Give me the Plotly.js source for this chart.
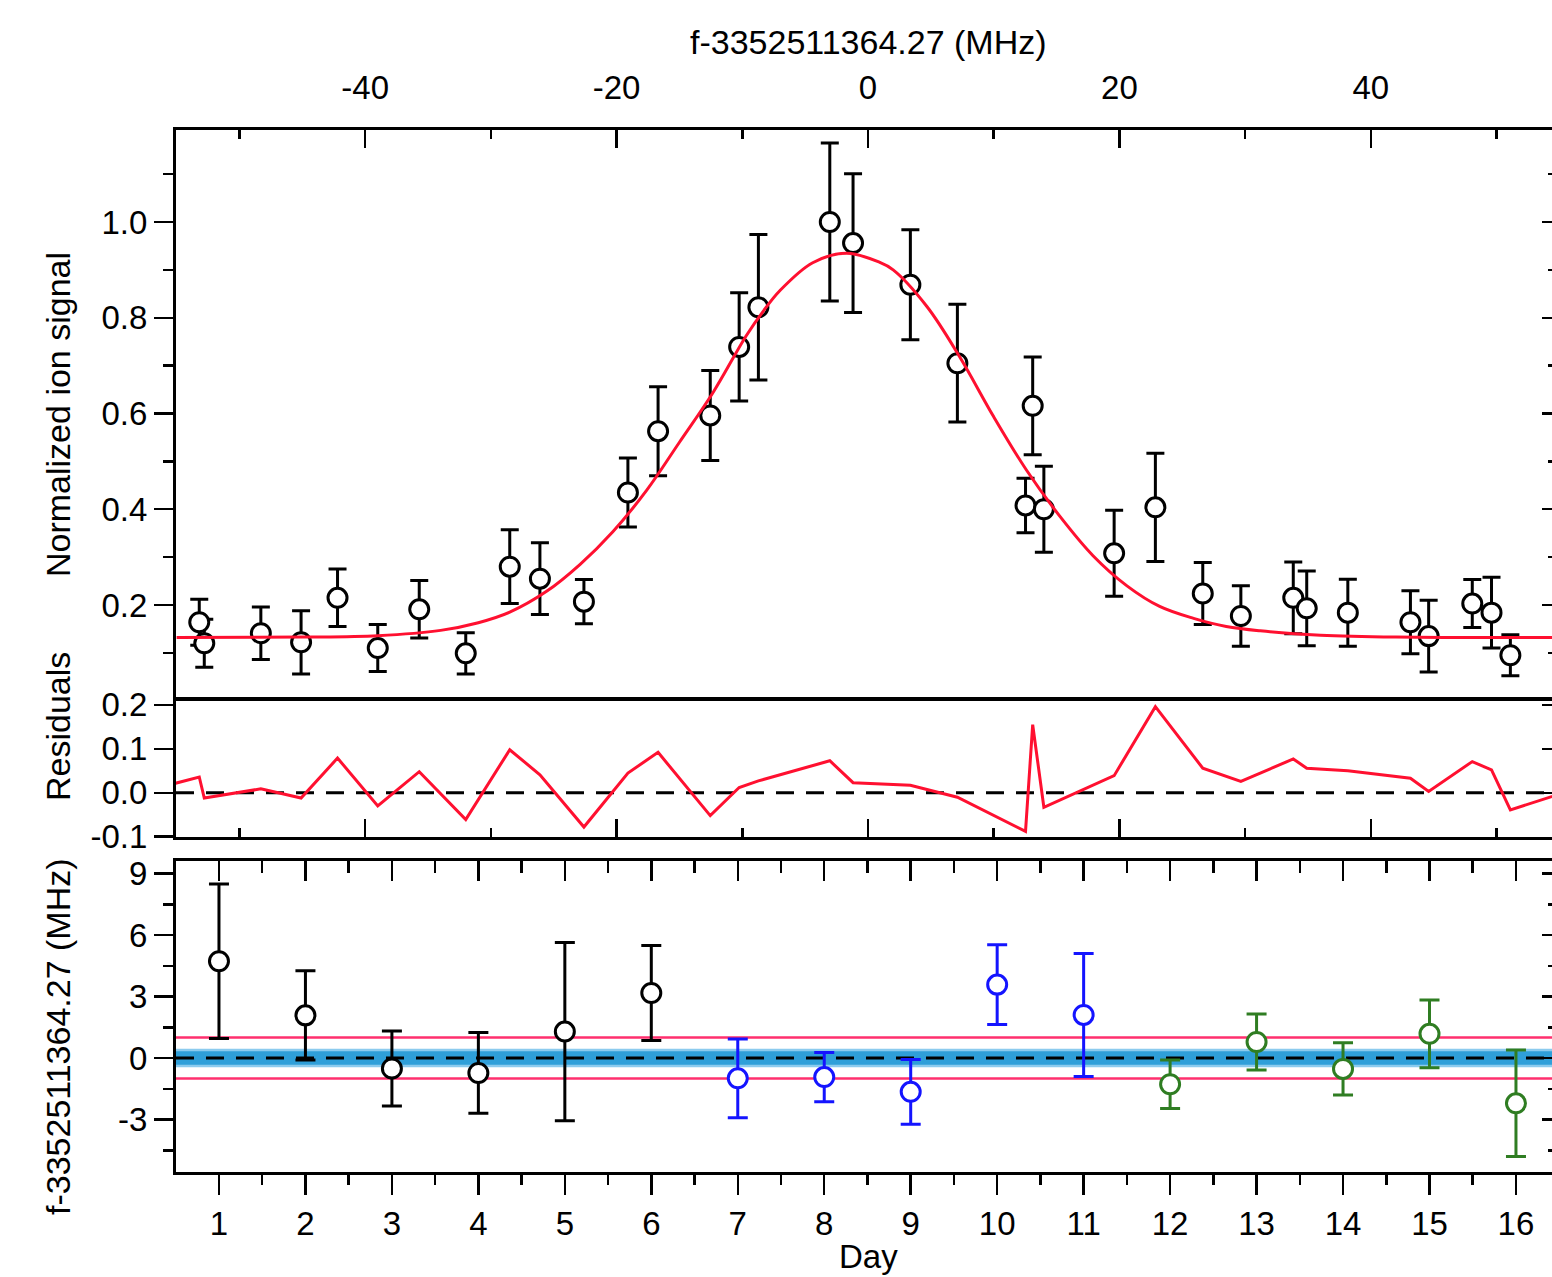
<!DOCTYPE html>
<html>
<head>
<meta charset="utf-8">
<script src="https://cdn.plot.ly/plotly-3.0.1.min.js"></script>
<style>
  html, body { margin: 0; padding: 0; background: #ffffff; overflow: hidden; }
  #chart { width: 1560px; height: 1277px; }
</style>
</head>
<body>
<div id="chart"></div>
<script>
// ---------- Top panel: normalized ion signal vs frequency offset (MHz) ----------
const scanMHz = [-53.2, -52.8, -48.3, -45.1, -42.2, -39.0, -35.7, -32.0, -28.5, -26.1,
                 -22.6, -19.1, -16.7, -12.55, -10.25, -8.72, -3.04, -1.19, 3.37, 7.11,
                 12.53, 13.1, 13.99, 19.58, 22.86, 26.63, 29.66, 33.83, 34.9, 38.17,
                 43.15, 44.6, 48.07, 49.6, 51.1];
const ionSignal = [0.164, 0.120, 0.141, 0.122, 0.215, 0.110, 0.191, 0.099, 0.280, 0.255,
                   0.207, 0.435, 0.563, 0.596, 0.739, 0.822, 1.000, 0.956, 0.869, 0.705,
                   0.408, 0.616, 0.400, 0.308, 0.404, 0.224, 0.177, 0.215, 0.193, 0.184,
                   0.164, 0.135, 0.203, 0.184, 0.095];
const ionSignalErr = [0.048, 0.050, 0.055, 0.066, 0.060, 0.049, 0.060, 0.043, 0.077, 0.075,
                      0.046, 0.072, 0.093, 0.094, 0.113, 0.152, 0.165, 0.145, 0.115, 0.123,
                      0.057, 0.102, 0.090, 0.090, 0.113, 0.065, 0.063, 0.075, 0.078, 0.070,
                      0.066, 0.075, 0.050, 0.074, 0.043];

// Fitted line
const fitMHz = [-55, -45, -39, -34, -31, -28.5, -25.6, -22.9, -20.3, -17.6, -15, -12.3, -9.7,
                -8.3, -7, -4.4, -1.7, 0.9, 2, 4.7, 7.3, 10, 12.6, 15.3, 17.9, 20.6, 23.2,
                25.9, 28.5, 31.2, 36, 42, 55];
const fitSignal = [0.132, 0.133, 0.136, 0.147, 0.163, 0.185, 0.228, 0.285, 0.353, 0.440,
                   0.540, 0.645, 0.762, 0.815, 0.857, 0.915, 0.935, 0.916, 0.900, 0.823,
                   0.718, 0.593, 0.482, 0.384, 0.303, 0.240, 0.197, 0.172, 0.155, 0.146,
                   0.137, 0.133, 0.132];

// ---------- Middle panel: residuals ----------
const residMHz = [-56.5, -53.2, -52.8, -48.3, -45.1, -42.2, -39.0, -35.7, -32.0, -28.5, -26.1,
                  -22.6, -19.1, -16.7, -12.55, -10.25, -8.72, -3.04, -1.19, 3.37, 7.11,
                  12.53, 13.1, 13.99, 19.58, 22.86, 26.63, 29.66, 33.83, 34.9, 38.17,
                  43.15, 44.6, 48.07, 49.6, 51.1, 56.5];
const residuals = [0.011, 0.036, -0.012, 0.009, -0.012, 0.079, -0.030, 0.048, -0.061, 0.098, 0.041,
                   -0.078, 0.045, 0.092, -0.052, 0.012, 0.027, 0.073, 0.023, 0.017, -0.010,
                   -0.088, 0.155, -0.033, 0.039, 0.196, 0.056, 0.026, 0.077, 0.056, 0.050,
                   0.033, 0.003, 0.071, 0.052, -0.039, 0.011];

// ---------- Bottom panel: daily frequency offsets ----------
const daysA = [1, 2, 3, 4, 5, 6];
const shiftA = [4.72, 2.08, -0.51, -0.73, 1.29, 3.17];
const shiftErrA = [3.77, 2.18, 1.83, 1.97, 4.35, 2.32];
const daysB = [7, 8, 9, 10, 11];
const shiftB = [-0.99, -0.93, -1.65, 3.58, 2.10];
const shiftErrB = [1.92, 1.20, 1.58, 1.94, 3.00];
const daysC = [12, 13, 14, 15, 16];
const shiftC = [-1.28, 0.78, -0.53, 1.18, -2.21];
const shiftErrC = [1.18, 1.37, 1.27, 1.65, 2.60];
const meanShift = 0.0;
const meanShiftBand = 0.33;      // blue uncertainty band half-width
const meanShiftBandOuter = 0.45;
const scatterBand = 1.0;         // pink lines

// ---------- Tick labels ----------
const mhzTicks = [-40, -20, 0, 20, 40];
const mhzTickText = ['-40', '-20', '0', '20', '40'];
const mhzMinor = [-50, -30, -10, 10, 30, 50];
const sigTicks = [0.2, 0.4, 0.6, 0.8, 1.0];
const sigTickText = ['0.2', '0.4', '0.6', '0.8', '1.0'];
const sigMinor = [0.1, 0.3, 0.5, 0.7, 0.9, 1.1];
const resTicks = [-0.1, 0.0, 0.1, 0.2];
const resTickText = ['-0.1', '0.0', '0.1', '0.2'];
const dayTicks = [1, 2, 3, 4, 5, 6, 7, 8, 9, 10, 11, 12, 13, 14, 15, 16];
const dayTickText = ['1', '2', '3', '4', '5', '6', '7', '8', '9', '10', '11', '12', '13', '14', '15', '16'];
const dayMinor = [0.5, 1.5, 2.5, 3.5, 4.5, 5.5, 6.5, 7.5, 8.5, 9.5, 10.5, 11.5, 12.5, 13.5, 14.5, 15.5, 16.5];
const shiftTicks = [-3, 0, 3, 6, 9];
const shiftTickText = ['-3', '0', '3', '6', '9'];
const shiftMinor = [-4.5, -1.5, 1.5, 4.5, 7.5];

// ---------- Styling ----------
const RED = '#ff1030';
const PINK = '#ff2f6e';
const BLUE = '#1414ff';
const GREEN = '#2f7d22';
const BAND = '#2f9fd9';
const BAND_OUT = '#8ccbee';
const FONT = 'Liberation Sans, Arial, Helvetica, sans-serif';

function pts(x, y, err, color, xa, ya, half) {
  return {
    type: 'scatter', mode: 'markers', x: x, y: y, xaxis: xa, yaxis: ya,
    error_y: { type: 'data', array: err, visible: true, color: color, thickness: 3, width: half },
    marker: { symbol: 'circle', size: 19, color: '#ffffff', line: { color: color, width: 3 } },
    hoverinfo: 'x+y'
  };
}

const traces = [
  { type: 'scatter', mode: 'lines', x: fitMHz, y: fitSignal, xaxis: 'x', yaxis: 'y4',
    line: { color: RED, width: 3, shape: 'spline', smoothing: 1.0 } },
  pts(scanMHz, ionSignal, ionSignalErr, '#000000', 'x', 'y', 9),
  { type: 'scatter', mode: 'lines', x: residMHz, y: residuals, xaxis: 'x2', yaxis: 'y5',
    line: { color: RED, width: 3 } },
  pts(daysA, shiftA, shiftErrA, '#000000', 'x4', 'y3', 10),
  pts(daysB, shiftB, shiftErrB, BLUE, 'x3', 'y6', 10),
  pts(daysC, shiftC, shiftErrC, GREEN, 'x3', 'y3', 10)
];

const H = 1042; // plotting height
const topDom = [(1172 - 697) / H, 1];
const resDom = [(1172 - 837) / H, (1172 - 697) / H];
const botDom = [0, (1172 - 861) / H];

const mhzRange = [-55.05, 54.73];
const sigRange = [0.0078, 1.1922];
const resRange = [-0.1006, 0.218];
const dayRange = [0.503, 16.463];
const shiftRange = [-5.56, 9.61];

const baseAx = {
  showgrid: false, zeroline: false, showline: true, linecolor: '#000000', linewidth: 3,
  tickcolor: '#000000', tickwidth: 2.5, tickfont: { family: FONT, size: 33, color: '#000000' },
  fixedrange: true
};

const layout = {
  width: 1560, height: 1277,
  margin: { l: 176, r: 4, t: 130, b: 105 },
  paper_bgcolor: '#ffffff', plot_bgcolor: '#ffffff',
  showlegend: false,
  font: { family: FONT, size: 33, color: '#000000' },
  xaxis: Object.assign({}, baseAx, {
    domain: [0, 1], anchor: 'y', side: 'top', range: mhzRange, mirror: true, linewidth: 3.5,
    tickmode: 'array', tickvals: mhzTicks, ticktext: mhzTickText,
    ticks: 'inside', ticklen: 18, ticklabelstandoff: 14,
    minor: { tickmode: 'array', tickvals: mhzMinor, ticks: 'inside', ticklen: 9, tickwidth: 2.5, tickcolor: '#000000' }
  }),
  yaxis: Object.assign({}, baseAx, {
    domain: topDom, anchor: 'x', range: sigRange, mirror: true,
    tickmode: 'array', tickvals: sigTicks, ticktext: sigTickText,
    ticks: 'outside', ticklen: 19,
    minor: { tickmode: 'array', tickvals: sigMinor, ticks: 'outside', ticklen: 10, tickwidth: 2.5, tickcolor: '#000000' }
  }),
  yaxis4: Object.assign({}, baseAx, {
    overlaying: 'y', side: 'right', anchor: 'x', range: sigRange, showline: false,
    tickmode: 'array', tickvals: sigTicks, showticklabels: false,
    ticks: 'inside', ticklen: 14,
    minor: { tickmode: 'array', tickvals: sigMinor, ticks: 'inside', ticklen: 8, tickwidth: 2.5, tickcolor: '#000000' }
  }),
  xaxis2: Object.assign({}, baseAx, {
    domain: [0, 1], anchor: 'y2', side: 'bottom', range: mhzRange, mirror: false,
    tickmode: 'array', tickvals: mhzTicks, showticklabels: false,
    ticks: 'inside', ticklen: 18,
    minor: { tickmode: 'array', tickvals: mhzMinor, ticks: 'inside', ticklen: 9, tickwidth: 2.5, tickcolor: '#000000' }
  }),
  yaxis2: Object.assign({}, baseAx, {
    domain: resDom, anchor: 'x2', range: resRange, mirror: true,
    tickmode: 'array', tickvals: resTicks, ticktext: resTickText,
    ticks: 'outside', ticklen: 19
  }),
  yaxis5: Object.assign({}, baseAx, {
    overlaying: 'y2', side: 'right', anchor: 'x2', range: resRange, showline: false,
    tickmode: 'array', tickvals: resTicks, showticklabels: false,
    ticks: 'inside', ticklen: 14
  }),
  xaxis3: Object.assign({}, baseAx, {
    domain: [0, 1], anchor: 'y3', side: 'bottom', range: dayRange, mirror: true,
    tickmode: 'array', tickvals: dayTicks, ticktext: dayTickText,
    ticks: 'outside', ticklen: 20, ticklabelstandoff: 0,
    minor: { tickmode: 'array', tickvals: dayMinor, ticks: 'outside', ticklen: 10, tickwidth: 2.5, tickcolor: '#000000' }
  }),
  xaxis4: Object.assign({}, baseAx, {
    overlaying: 'x3', side: 'top', anchor: 'y3', range: dayRange, showline: false,
    tickmode: 'array', tickvals: dayTicks, showticklabels: false,
    ticks: 'inside', ticklen: 20,
    minor: { tickmode: 'array', tickvals: dayMinor, ticks: 'inside', ticklen: 12, tickwidth: 2.5, tickcolor: '#000000' }
  }),
  yaxis3: Object.assign({}, baseAx, {
    domain: botDom, anchor: 'x3', range: shiftRange, mirror: true,
    tickmode: 'array', tickvals: shiftTicks, ticktext: shiftTickText,
    ticks: 'outside', ticklen: 19,
    minor: { tickmode: 'array', tickvals: shiftMinor, ticks: 'outside', ticklen: 10, tickwidth: 2.5, tickcolor: '#000000' }
  }),
  yaxis6: Object.assign({}, baseAx, {
    overlaying: 'y3', side: 'right', anchor: 'x3', range: shiftRange, showline: false,
    tickmode: 'array', tickvals: shiftTicks, showticklabels: false,
    ticks: 'inside', ticklen: 14,
    minor: { tickmode: 'array', tickvals: shiftMinor, ticks: 'inside', ticklen: 8, tickwidth: 2.5, tickcolor: '#000000' }
  }),
  shapes: [
    { type: 'line', xref: 'x2 domain', yref: 'y2', x0: 0, x1: 1, y0: 0, y1: 0,
      line: { color: '#000000', width: 3, dash: '18px,12px' }, layer: 'below' },
    { type: 'rect', xref: 'x3 domain', yref: 'y3', x0: 0, x1: 1,
      y0: meanShift - meanShiftBandOuter, y1: meanShift + meanShiftBandOuter,
      fillcolor: BAND_OUT, line: { width: 0 }, layer: 'below' },
    { type: 'rect', xref: 'x3 domain', yref: 'y3', x0: 0, x1: 1,
      y0: meanShift - meanShiftBand, y1: meanShift + meanShiftBand,
      fillcolor: BAND, line: { width: 0 }, layer: 'below' },
    { type: 'line', xref: 'x3 domain', yref: 'y3', x0: 0, x1: 1,
      y0: meanShift + scatterBand, y1: meanShift + scatterBand,
      line: { color: PINK, width: 2.5 }, layer: 'below' },
    { type: 'line', xref: 'x3 domain', yref: 'y3', x0: 0, x1: 1,
      y0: meanShift - scatterBand, y1: meanShift - scatterBand,
      line: { color: PINK, width: 2.5 }, layer: 'below' },
    { type: 'line', xref: 'x3 domain', yref: 'y3', x0: 0, x1: 1, y0: meanShift, y1: meanShift,
      line: { color: '#000000', width: 3, dash: '18px,12px' }, layer: 'below' }
  ],
  annotations: [
    { text: 'f-3352511364.27 (MHz)', xref: 'paper', yref: 'paper',
      x: (868 - 176) / 1380, y: (1172 - 42) / H, xanchor: 'center', yanchor: 'middle',
      showarrow: false, font: { family: FONT, size: 34, color: '#000000' } },
    { text: 'Day', xref: 'paper', yref: 'paper',
      x: (868 - 176) / 1380, y: (1172 - 1256) / H, xanchor: 'center', yanchor: 'middle',
      showarrow: false, font: { family: FONT, size: 33, color: '#000000' } },
    { text: 'Normalized ion signal', xref: 'paper', yref: 'paper', textangle: -90,
      x: (58 - 176) / 1380, y: (1172 - 415) / H, xanchor: 'center', yanchor: 'middle',
      showarrow: false, font: { family: FONT, size: 34, color: '#000000' } },
    { text: 'Residuals', xref: 'paper', yref: 'paper', textangle: -90,
      x: (58 - 176) / 1380, y: (1172 - 727) / H, xanchor: 'center', yanchor: 'middle',
      showarrow: false, font: { family: FONT, size: 34, color: '#000000' } },
    { text: 'f-3352511364.27 (MHz)', xref: 'paper', yref: 'paper', textangle: -90,
      x: (58 - 176) / 1380, y: (1172 - 1037) / H, xanchor: 'center', yanchor: 'middle',
      showarrow: false, font: { family: FONT, size: 34, color: '#000000' } }
  ]
};

Plotly.newPlot('chart', traces, layout, { displayModeBar: false, staticPlot: true });
</script>
</body>
</html>
